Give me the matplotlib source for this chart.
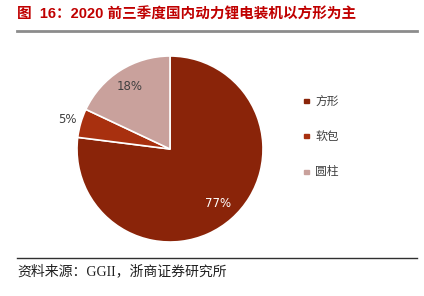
import matplotlib
matplotlib.use("Agg")
import matplotlib.pyplot as plt
import numpy as np

plt.rcParams['font.family'] = ['Noto Sans CJK SC', 'DejaVu Sans']

categories = ['方形', '软包', '圆柱']
values = [77, 5, 18]
colors = ['#8A2409', '#A8300F', '#C9A19C']
label_colors = ['#FFFFFF', '#404040', '#404040']
title = '图  16：2020 前三季度国内动力锂电装机以方形为主'
source = '资料来源：GGII，浙商证券研究所'

W, H = 424, 296
fig = plt.figure(figsize=(W/100, H/100), dpi=100)

# title
fig.text(17/W, 1-15/H, title, color='#C00000', fontsize=10.5, fontweight='bold',
         va='center', ha='left', family=['Liberation Sans', 'Noto Sans CJK SC'])
fig.add_artist(plt.Line2D([17/W, 417/W], [1-31/H, 1-31/H], color='#8C8C8C', lw=2))
fig.add_artist(plt.Line2D([17/W, 417/W], [1-258/H, 1-258/H], color='#303030', lw=1))
fig.text(17/W, 1-271/H, source, color='#202020', fontsize=10, va='center', ha='left',
         family=['Liberation Serif', 'Noto Sans CJK SC'])

cx, cy, R = 170, 149, 93
ax = fig.add_axes([(cx-R)/W, (H-cy-R)/H, 2*R/W, 2*R/H])
wedges, _ = ax.pie(values, colors=colors, startangle=90, counterclock=False,
                   wedgeprops=dict(edgecolor='white', linewidth=1.2))
ax.set_xlim(-1, 1); ax.set_ylim(-1, 1)
ax.set_aspect('auto')

dists = [0.78, 1.15, 0.8]
for w, v, d, c in zip(wedges, values, dists, label_colors):
    ang = np.deg2rad((w.theta1 + w.theta2) / 2)
    ax.text(d*np.cos(ang), d*np.sin(ang), f'{v}%', color=c, fontsize=8.5,
            ha='center', va='center', family=['Liberation Sans Narrow', 'DejaVu Sans'])

# legend
ys = [101, 136, 172]
for cat, col, y in zip(categories, colors, ys):
    fig.patches.append(plt.Rectangle(((306-2)/W, 1-(y+2)/H), 4.5/W, 4.5/H,
                                     transform=fig.transFigure, color=col))
    fig.text(315/W, 1-y/H, cat, color='#404040', fontsize=8.5, va='center', ha='left')

fig.savefig('out.png', dpi=100)
